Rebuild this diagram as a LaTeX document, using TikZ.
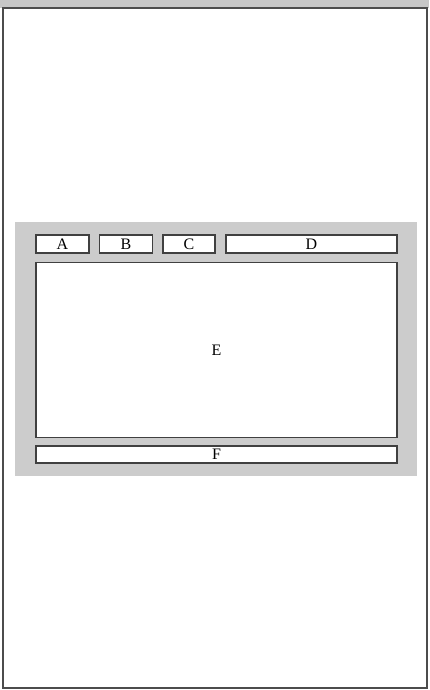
\documentclass[tikz,border=0pt]{standalone}
\usepackage{fontspec}
\setmainfont{Liberation Serif}
\begin{document}
\begin{tikzpicture}[x=1pt,y=-1pt,
  slot/.style={draw=black!75, line width=1.4pt, fill=white, inner sep=0pt, font=\fontsize{16}{16}\selectfont},
  panel/.style={fill=black!20, draw=none}]
\useasboundingbox (0,0) rectangle (429,690);
\fill[black!22] (0,0) rectangle (429,8);
\draw[black!70, line width=2.4pt, fill=white] (3,8) rectangle (427,688);
\fill[panel] (15,222) rectangle (417,476);
\node[slot, minimum width=53pt, minimum height=18pt] (A) at (62.5,244) {A};
\node[slot, minimum width=53pt, minimum height=18pt] (B) at (126,244) {B};
\node[slot, minimum width=52pt, minimum height=18pt] (C) at (189,244) {C};
\node[slot, minimum width=171pt, minimum height=18pt] (D) at (311.5,244) {D};
\node[slot, minimum width=361pt, minimum height=175pt] (E) at (216.5,350) {E};
\node[slot, minimum width=361pt, minimum height=17pt] (F) at (216.5,454.5) {F};
\end{tikzpicture}
\end{document}
